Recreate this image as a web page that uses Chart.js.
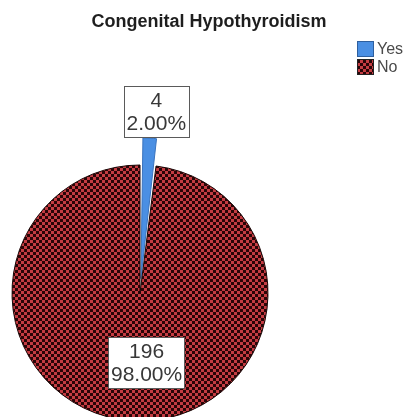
<!DOCTYPE html>
<html>
<head>
<meta charset="utf-8">
<script src="https://cdn.jsdelivr.net/npm/chart.js@4"></script>
<style>
  html, body { margin: 0; padding: 0; background: #ffffff; }
  canvas { display: block; }
</style>
</head>
<body>
<canvas id="c" width="412" height="417"></canvas>
<script>
// Survey counts for congenital hypothyroidism
const chartTitle = 'Congenital Hypothyroidism';
const categories = ['Yes', 'No'];
const counts = [4, 196];

const FONT = '"Liberation Sans", Arial, Helvetica, sans-serif';
const canvas = document.getElementById('c');
const ctx = canvas.getContext('2d');

// Red/black checker fill used for the "No" slice
function checkerPattern(context) {
  const tile = document.createElement('canvas');
  tile.width = 6; tile.height = 6;
  const g = tile.getContext('2d');
  g.fillStyle = '#2a0507';
  g.fillRect(0, 0, 6, 6);
  g.fillStyle = '#c43c42';
  g.fillRect(0, 0, 3, 3);
  g.fillRect(3, 3, 3, 3);
  return context.createPattern(tile, 'repeat');
}
const noFill = checkerPattern(ctx);
const yesFill = '#4a8fe3';
const sliceFills = [yesFill, noFill];
const sliceBorders = ['#3a73bd', '#1a0505'];

const total = counts.reduce((a, b) => a + b, 0);

// label placement around each slice (distance from centre, horizontal nudge)
const labelRadius = [181, 70];
const labelShift = [5, 11];

const decor = {
  id: 'decor',
  afterDraw(chart) {
    const c = chart.ctx;
    c.save();

    // title
    c.font = 'bold 18px ' + FONT;
    c.fillStyle = '#1e1e1e';
    c.textAlign = 'center';
    c.textBaseline = 'alphabetic';
    c.fillText(chartTitle, 209, 27);

    // legend
    c.font = '16px ' + FONT;
    c.textAlign = 'left';
    c.textBaseline = 'middle';
    categories.forEach((name, i) => {
      const y = 41 + i * 18;
      c.fillStyle = sliceFills[i];
      c.fillRect(357, y, 17, 16);
      c.strokeStyle = i === 0 ? '#2e5f9e' : '#222222';
      c.lineWidth = 1;
      c.strokeRect(357.5, y + 0.5, 16, 15);
      c.fillStyle = '#4a4a4a';
      c.fillText(name, 377, y + 8.5);
    });

    // value labels
    const arcs = chart.getDatasetMeta(0).data;
    c.font = '21px ' + FONT;
    c.textAlign = 'center';
    c.textBaseline = 'middle';
    arcs.forEach((arc, i) => {
      const mid = (arc.startAngle + arc.endAngle) / 2;
      const cx = arc.x + Math.cos(mid) * labelRadius[i] + labelShift[i];
      const cy = arc.y + Math.sin(mid) * labelRadius[i];
      const line1 = String(counts[i]);
      const line2 = (counts[i] / total * 100).toFixed(2) + '%';
      const w = Math.max(c.measureText(line1).width, c.measureText(line2).width) + 6;
      const h = 52;
      const x0 = Math.round(cx - w / 2), y0 = Math.round(cy - h / 2);
      c.fillStyle = '#ffffff';
      c.fillRect(x0, y0, Math.round(w), h);
      c.strokeStyle = '#5a5a5a';
      c.lineWidth = 1;
      c.strokeRect(x0 + 0.5, y0 + 0.5, Math.round(w) - 1, h - 1);
      c.fillStyle = '#383838';
      c.fillText(line1, cx, cy - 11);
      c.fillText(line2, cx, cy + 12);
    });

    c.restore();
  }
};

new Chart(ctx, {
  type: 'pie',
  data: {
    labels: categories,
    datasets: [{
      data: counts,
      backgroundColor: sliceFills,
      borderColor: sliceBorders,
      borderWidth: 1,
      offset: [58, 0],
      radius: 128
    }]
  },
  options: {
    responsive: false,
    animation: false,
    devicePixelRatio: 1,
    events: [],
    radius: 128,
    layout: { padding: { left: 0, right: 132, top: 169, bottom: 0 } },
    plugins: {
      legend: { display: false },
      title: { display: false },
      tooltip: { enabled: false }
    }
  },
  plugins: [decor]
});
</script>
</body>
</html>
